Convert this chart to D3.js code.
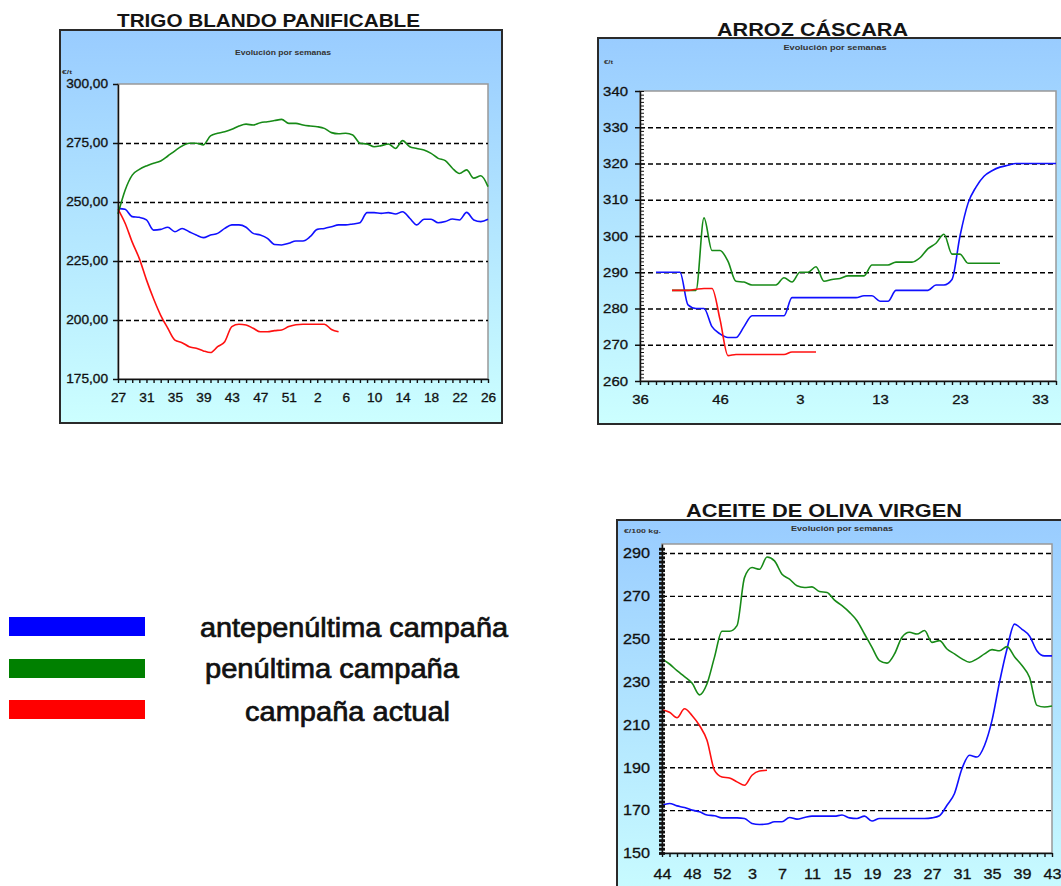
<!DOCTYPE html>
<html lang="es">
<head>
<meta charset="UTF-8">
<title>Evolución por semanas</title>
<script src="https://d3js.org/d3.v7.min.js"></script>
<style>
  body { margin: 0; background: #fff; }
  svg { display: block; font-family: "Liberation Sans", Arial, sans-serif; }
  .grid line { stroke: #000; stroke-dasharray: 5,3; stroke-width: 1.4; }
  .tick text { fill: #111; }
</style>
</head>
<body>
<svg id="scene" width="1061" height="886"></svg>
<script>
  const seriesNames = ["antepenúltima campaña", "penúltima campaña", "campaña actual"];
  const seriesColors = ["#1010ff", "#178a17", "#ff1010"];
  const legendColors = ["#0000ff", "#008000", "#ff0000"];

  // TRIGO BLANDO PANIFICABLE (€/t)
  const trigoWeeks = [27,28,29,30,31,32,33,34,35,36,37,38,39,40,41,42,43,44,45,46,47,48,49,50,51,52,53,
    1,2,3,4,5,6,7,8,9,10,11,12,13,14,15,16,17,18,19,20,21,22,23,24,25,26];
  const trigoXTicks = [27,31,35,39,43,47,51,2,6,10,14,18,22,26];
  const trigoYTicks = [175,200,225,250,275,300];
  const trigoAnte = [247.3,246.9,243.8,243.5,242.4,238.1,238.4,239.3,237.4,238.8,237.4,236,234.9,236,236.7,
    238.8,240.3,240.3,239.3,236.7,236,234.6,232,231.8,232.5,233.5,233.5,235.3,238.4,238.8,239.5,240.3,240.3,
    240.7,241.2,245.5,245.5,245.2,245.5,244.9,245.9,243.1,240.3,242.7,242.7,241.2,241.7,242.8,242.4,245.6,
    242.4,241.7,242.7];
  const trigoPenult = [244.9,255,261.4,263.8,265.3,266.4,267.4,269.5,271.7,273.7,274.9,274.9,274.2,278,279.1,
    279.8,280.8,282.2,283,282.6,283.6,284,284.5,285,283.3,283.3,282.6,282.2,281.9,281.2,279.4,278.9,279.1,
    278.4,274.9,274.6,273.4,273.9,274.6,272.7,276,273.4,272.7,272,270.6,268.5,267.5,264.3,262.1,263.6,
    260.1,261.1,256.5];
  const trigoActual = [247,241,233,226,217,209,202,196.5,191.5,190.4,188.7,188,186.9,186.2,188.7,190.8,
    197.2,198.2,197.9,196.5,195,195,195.5,195.8,197.2,198,198.2,198.2,198.2,198.2,196,195];

  // ARROZ CÁSCARA (€/t)
  const arrozWeeks = [36,37,38,39,40,41,42,43,44,45,46,47,48,49,50,51,52,53,
    1,2,3,4,5,6,7,8,9,10,11,12,13,14,15,16,17,18,19,20,21,22,23,24,25,26,27,28,29,30,31,32,33,34,35];
  const arrozXTicks = [36,46,3,13,23,33];
  const arrozYTicks = [260,270,280,290,300,310,320,330,340];
  const arrozAnte = [null,null,290,290,290,290,281,280,280,275,273,272,272,275,278,278,278,278,278,
    283,283,283,283,283,283,283,283,283,283.5,283.5,282,282,285,285,285,285,285,286.5,286.5,288,
    300,309,313.5,316.5,318,319,319.5,320,320,320,320,320,320];
  const arrozPenult = [null,null,null,null,285,285,285,285,305,296,296,293,287.5,287.3,286.5,286.5,286.5,
    286.5,288.5,287.3,290,290,291.5,287.5,288,288.3,289,289,289,292,292,292,292.8,292.8,292.8,294,296.5,
    298,300.5,295,295,292.5,292.5,292.5,292.5,292.5,null,null,null,null,null,null,null];
  const arrozActual = [null,null,null,null,285,285,285,285.3,285.5,285.5,277,267,267.3,267.3,267.3,267.3,
    267.3,267.3,267.3,268,268,268,268];

  // ACEITE DE OLIVA VIRGEN (€/100 kg.)
  const aceiteWeeks = [44,45,46,47,48,49,50,51,52,53,
    1,2,3,4,5,6,7,8,9,10,11,12,13,14,15,16,17,18,19,20,21,22,23,24,25,26,27,28,29,30,31,32,33,34,35,36,
    37,38,39,40,41,42,43];
  const aceiteXTicks = [44,48,52,3,7,11,15,19,23,27,31,35,39,43];
  const aceiteYTicks = [150,170,190,210,230,250,270,290];
  const aceiteAnte = [172.3,173.1,172,171.2,170,169.2,167.7,167.4,166.4,166.4,166.4,166.1,163.8,163.3,163.5,
    164.6,164.6,166.6,165.8,166.6,167.2,167.2,167.2,167.2,167.7,166.4,166.1,167.2,164.9,166.1,166.1,166.1,
    166.1,166.1,166.1,166.1,166.4,167.4,172.3,177.8,189.4,195.6,194.8,200.2,211.9,229.7,245.2,256.8,254.4,
    251.3,244.3,242,242];
  const aceitePenult = [240.6,238.2,235.1,232.3,229.3,223.8,229,241.4,253.5,253.5,256.1,278.5,283.2,282.4,
    288.1,286.3,280.1,277.8,274.7,273.9,274.2,272,271.6,268,265.4,262.3,258.4,252.2,246,239.8,238.6,242.9,
    250.7,253,252.2,253.8,248.3,249.1,245.2,242.9,240.6,239,240.6,242.9,244.9,244.4,246.3,241.6,237.5,232,
    218.9,218.1,218.6];
  const aceiteActual = [216.8,215.7,213.1,217.3,214.2,209.5,202.6,188.6,185.5,185,183.2,181.6,186.3,188.3,188.6];

  const svg = d3.select("#scene");
  const fmtComma = d3.formatLocale({decimal: ",", thousands: ".", grouping: [3], currency: ["", "€"]}).format(".2f");

  const defs = svg.append("defs");
  const grad = defs.append("linearGradient").attr("id", "bg").attr("x1", 0).attr("y1", 0).attr("x2", 0).attr("y2", 1);
  grad.append("stop").attr("offset", "0%").attr("stop-color", "#99ccff");
  grad.append("stop").attr("offset", "100%").attr("stop-color", "#ccffff");

  // stretch text horizontally (the reference is a bit wider than the font)
  function stretchText(sel, s) {
    sel.each(function() {
      const t = d3.select(this);
      const x = +t.attr("x") || 0;
      t.attr("x", x / s).attr("transform", `scale(${s},1)`);
    });
  }

  function drawChart(c) {
    const g = svg.append("g");

    g.append("rect")
      .attr("x", c.box[0]).attr("y", c.box[1])
      .attr("width", c.box[2]).attr("height", c.box[3])
      .attr("fill", "url(#bg)")
      .attr("stroke", "#2a2a2a")
      .attr("stroke-width", 2);

    g.append("rect")
      .attr("x", c.plot.l).attr("y", c.plot.t)
      .attr("width", c.plot.r - c.plot.l).attr("height", c.plot.b - c.plot.t)
      .attr("fill", "#fff")
      .attr("stroke", "#999")
      .attr("stroke-width", 1.5);

    // title + subtitle + unit
    g.append("text")
      .attr("x", c.title.x).attr("y", c.title.y)
      .attr("textLength", c.title.w).attr("lengthAdjust", "spacingAndGlyphs")
      .attr("font-size", 18).attr("font-weight", "bold").attr("fill", "#141414")
      .text(c.title.text);

    g.append("text")
      .attr("x", c.sub.x).attr("y", c.sub.y)
      .attr("text-anchor", "middle")
      .attr("textLength", c.sub.w).attr("lengthAdjust", "spacingAndGlyphs")
      .attr("font-size", 7).attr("font-weight", "bold").attr("fill", "#333")
      .text("Evolución por semanas");

    g.append("text")
      .attr("x", c.unit.x).attr("y", c.unit.y)
      .attr("textLength", c.unit.w).attr("lengthAdjust", "spacingAndGlyphs")
      .attr("font-size", 6).attr("font-weight", "bold").attr("fill", "#333")
      .text(c.unit.text);

    const x = d3.scalePoint().domain(c.weeks).range([c.plot.l, c.plot.r]);
    const y = d3.scaleLinear().domain(c.yDomain).range([c.plot.b, c.plot.t]);

    g.append("g")
      .attr("class", "grid")
      .attr("transform", `translate(${c.plot.l},0)`)
      .call(d3.axisRight(y).tickValues(c.grid).tickSize(c.plot.r - c.plot.l).tickFormat(""))
      .call(s => s.select(".domain").remove());

    const line = d3.line()
      .defined(d => d.v != null)
      .x(d => x(d.w))
      .y(d => y(d.v))
      .curve(d3.curveMonotoneX);

    c.series.forEach((vals, k) => {
      const pts = vals.map((v, i) => ({w: c.weeks[i], v: v}));
      g.append("path")
        .datum(pts)
        .attr("fill", "none")
        .attr("stroke", seriesColors[k])
        .attr("stroke-width", 1.6)
        .attr("stroke-linejoin", "round")
        .attr("d", line);
    });

    // x axis: one tick per week, labels every few weeks
    g.append("g")
      .attr("transform", `translate(0,${c.plot.b})`)
      .call(d3.axisBottom(x).tickValues(c.weeks).tickSize(4).tickSizeOuter(0).tickFormat(""))
      .call(s => s.selectAll("line,path").attr("stroke", "#111").attr("stroke-width", 1.4));

    g.append("g")
      .attr("transform", `translate(0,${c.plot.b})`)
      .attr("font-family", null)
      .call(d3.axisBottom(x).tickValues(c.xTicks).tickSize(0).tickPadding(c.xPad))
      .call(s => s.select(".domain").remove())
      .selectAll("text")
      .attr("font-size", c.fs)
      .attr("stroke", "#111").attr("stroke-width", 0.3)
      .call(stretchText, c.sx);

    // y axis
    if (c.minor) {
      g.append("g")
        .attr("transform", `translate(${c.plot.l},0)`)
        .call(d3.axisRight(y).tickValues(c.minor).tickSize(c.minorIn).tickFormat(""))
        .call(s => s.select(".domain").remove())
        .call(s => s.selectAll("line").attr("stroke", "#111").attr("stroke-width", c.minorW));
      g.append("g")
        .attr("transform", `translate(${c.plot.l},0)`)
        .call(d3.axisLeft(y).tickValues(c.minor).tickSize(c.minorOut).tickFormat(""))
        .call(s => s.select(".domain").remove())
        .call(s => s.selectAll("line").attr("stroke", "#111").attr("stroke-width", c.minorW));
    }

    g.append("g")
      .attr("transform", `translate(${c.plot.l},0)`)
      .attr("font-family", null)
      .call(d3.axisLeft(y).tickValues(c.yTicks).tickSize(c.majorOut).tickSizeOuter(0)
        .tickPadding(c.yPad).tickFormat(c.yFmt))
      .call(s => s.selectAll("line,path").attr("stroke", "#111").attr("stroke-width", 1.5))
      .selectAll("text")
      .attr("font-size", c.fs)
      .attr("stroke", "#111").attr("stroke-width", 0.3)
      .call(stretchText, c.sx);
  }

  drawChart({
    box: [60, 30, 442, 393],
    plot: {l: 118, t: 84, r: 488, b: 379},
    title: {text: "TRIGO BLANDO PANIFICABLE", x: 117, y: 27, w: 303},
    sub: {x: 283, y: 55, w: 96},
    unit: {text: "€/t", x: 62, y: 74, w: 10},
    weeks: trigoWeeks, xTicks: trigoXTicks,
    yDomain: [175, 300], yTicks: trigoYTicks, grid: [200, 225, 250, 275],
    yFmt: fmtComma,
    series: [trigoAnte, trigoPenult, trigoActual],
    fs: 12, sx: 1.14, xPad: 14.5, yPad: 5, majorOut: 5
  });

  drawChart({
    box: [598, 38, 500, 386],
    plot: {l: 640, t: 91, r: 1056, b: 381},
    title: {text: "ARROZ CÁSCARA", x: 717, y: 36, w: 191},
    sub: {x: 835, y: 50, w: 103},
    unit: {text: "€/t", x: 604, y: 64, w: 9},
    weeks: arrozWeeks, xTicks: arrozXTicks,
    yDomain: [260, 340], yTicks: arrozYTicks, grid: [270, 280, 290, 300, 310, 320, 330],
    yFmt: d3.format("d"),
    minor: d3.range(260, 341, 1), minorIn: 4, minorOut: 0, minorW: 1,
    series: [arrozAnte, arrozPenult, arrozActual],
    fs: 13, sx: 1.15, xPad: 13.5, yPad: 7, majorOut: 5
  });

  drawChart({
    box: [617, 520, 470, 400],
    plot: {l: 662, t: 544, r: 1052, b: 853},
    title: {text: "ACEITE DE OLIVA VIRGEN", x: 686, y: 517, w: 276},
    sub: {x: 842, y: 531, w: 102},
    unit: {text: "€/100 kg.", x: 624, y: 533, w: 37},
    weeks: aceiteWeeks, xTicks: aceiteXTicks,
    yDomain: [150, 294.2], yTicks: aceiteYTicks, grid: [170, 190, 210, 230, 250, 270, 290],
    yFmt: d3.format("d"),
    minor: d3.range(150, 294, 2), minorIn: 3, minorOut: 3, minorW: 2.8,
    series: [aceiteAnte, aceitePenult, aceiteActual],
    fs: 15, sx: 1.08, xPad: 15.3, yPad: 9, majorOut: 3
  });

  // legend
  const legendRows = [
    {y: 617, tx: 200, ty: 637, tw: 308},
    {y: 659, tx: 205, ty: 678, tw: 254},
    {y: 700, tx: 245, ty: 721, tw: 205}
  ];
  const legend = svg.append("g");
  legend.selectAll("rect")
    .data(seriesNames)
    .join("rect")
    .attr("x", 9)
    .attr("y", (d, i) => legendRows[i].y)
    .attr("width", 136)
    .attr("height", 19)
    .attr("fill", (d, i) => legendColors[i]);
  legend.selectAll("text")
    .data(seriesNames)
    .join("text")
    .attr("x", (d, i) => legendRows[i].tx)
    .attr("y", (d, i) => legendRows[i].ty)
    .attr("textLength", (d, i) => legendRows[i].tw)
    .attr("lengthAdjust", "spacingAndGlyphs")
    .attr("font-size", 27)
    .attr("fill", "#111")
    .attr("stroke", "#111")
    .attr("stroke-width", 0.7)
    .text(d => d);
</script>
</body>
</html>
